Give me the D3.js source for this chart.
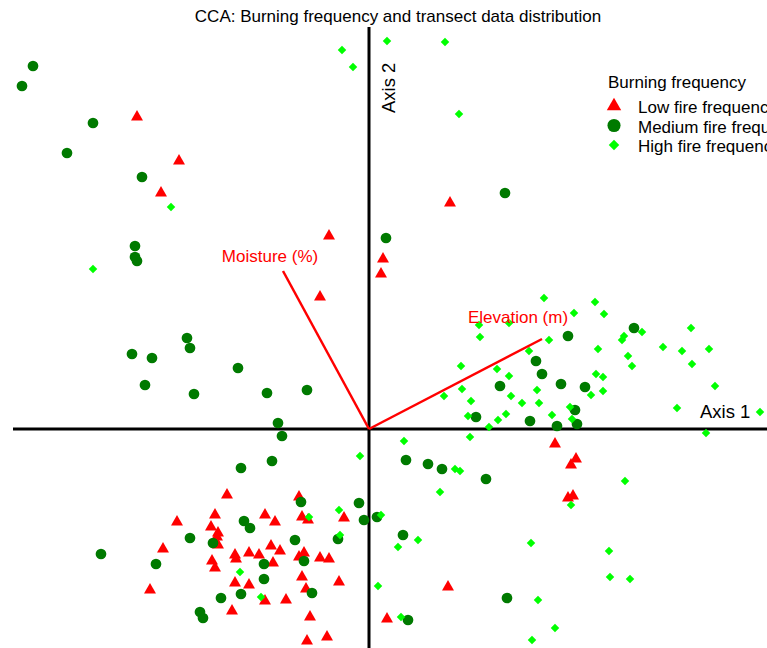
<!DOCTYPE html>
<html>
<head>
<meta charset="utf-8">
<script src="https://cdn.jsdelivr.net/npm/d3@7"></script>
<style>
  body { margin: 0; background: #fff; }
  svg { display: block; font-family: "Liberation Sans", Arial, Helvetica, sans-serif; }
</style>
</head>
<body>
<div id="chart"></div>
<script>
// CCA site scores [axis1, axis2] per burning frequency group
var lowFire = [
  [-2.32, 3.12], [-1.90, 2.68], [-2.08, 2.36], [0.81, 2.26], [-0.40, 1.93],
  [0.14, 1.70], [0.12, 1.55], [-0.49, 1.32], [1.86, -0.15], [2.07, -0.30],
  [2.02, -0.36], [1.99, -0.69], [2.04, -0.67], [0.79, -1.58], [0.18, -1.90],
  [-1.42, -0.66], [-0.70, -0.68], [-0.25, -0.89], [-1.92, -0.93], [-1.54, -0.86],
  [-1.04, -0.86], [-0.94, -0.93], [-0.67, -0.88], [-0.61, -0.91], [-1.58, -0.98],
  [-1.51, -1.04], [-1.52, -1.08], [-1.51, -1.16], [-2.06, -1.20], [-1.34, -1.26],
  [-1.33, -1.30], [-1.20, -1.24], [-1.10, -1.26], [-0.98, -1.17], [-0.89, -1.22],
  [-0.70, -1.28], [-0.65, -1.24], [-0.49, -1.29], [-0.40, -1.30], [-1.57, -1.32],
  [-1.54, -1.39], [-0.96, -1.34], [-0.67, -1.48], [-0.30, -1.53], [-1.34, -1.54],
  [-1.20, -1.56], [-0.63, -1.60], [-2.19, -1.61], [-1.04, -1.72], [-0.83, -1.71],
  [-1.37, -1.82], [-0.59, -1.88], [-0.62, -2.12], [-0.42, -2.08]
];

var mediumFire = [
  [-3.36, 3.63], [-3.47, 3.43], [-2.76, 3.06], [-3.02, 2.76], [-2.27, 2.52],
  [1.36, 2.36], [0.17, 1.91], [-2.34, 1.83], [-2.34, 1.72], [-2.32, 1.68],
  [-1.82, 0.91], [-1.79, 0.81], [-2.37, 0.75], [-2.17, 0.71], [-1.31, 0.61],
  [-2.24, 0.44], [-1.75, 0.35], [-1.02, 0.36], [-0.62, 0.39], [-0.91, 0.06],
  [-0.87, -0.07], [1.99, 0.93], [2.65, 1.01], [1.67, 0.68], [1.73, 0.55],
  [1.31, 0.43], [1.92, 0.45], [2.16, 0.42], [2.06, 0.19], [2.08, 0.05],
  [1.88, 0.03], [1.61, 0.08], [1.07, 0.12], [-0.97, -0.32], [-1.28, -0.39],
  [0.37, -0.31], [0.59, -0.35], [0.73, -0.40], [1.17, -0.50], [-0.68, -0.73],
  [-0.10, -0.74], [-0.05, -0.91], [0.08, -0.88], [-1.25, -0.92], [-1.19, -0.99],
  [-1.79, -1.09], [-0.74, -1.11], [-0.31, -1.10], [-1.56, -1.14], [-2.68, -1.25],
  [-2.13, -1.35], [-0.65, -1.32], [-1.05, -1.35], [-1.05, -1.50], [-1.48, -1.69],
  [-1.28, -1.65], [-0.57, -1.64], [-1.69, -1.83], [-1.66, -1.89], [0.34, -1.06],
  [1.38, -1.69], [0.39, -1.91]
];

var highFire = [
  [-0.27, 3.79], [-0.16, 3.62], [0.18, 3.88], [0.76, 3.87], [0.90, 3.15],
  [-1.98, 2.22], [-2.76, 1.60], [1.75, 1.31], [2.26, 1.27], [2.05, 1.16],
  [2.35, 1.15], [1.10, 1.04], [1.40, 1.06], [1.11, 0.92], [1.80, 0.89],
  [2.73, 0.97], [2.55, 0.93], [2.53, 0.89], [3.22, 1.01], [2.94, 0.82],
  [3.13, 0.78], [3.40, 0.80], [2.29, 0.80], [1.60, 0.78], [3.23, 0.65],
  [2.59, 0.73], [2.63, 0.63], [0.92, 0.63], [1.28, 0.60], [1.40, 0.53],
  [2.27, 0.55], [2.34, 0.52], [3.46, 0.43], [0.93, 0.40], [0.75, 0.33],
  [1.68, 0.39], [2.22, 0.34], [2.34, 0.38], [1.42, 0.33], [1.02, 0.28],
  [1.53, 0.26], [1.70, 0.26], [2.01, 0.22], [3.08, 0.21], [0.99, 0.13],
  [1.37, 0.15], [1.29, 0.09], [1.83, 0.14], [2.03, 0.10], [1.20, 0.02],
  [3.91, 0.17], [3.37, -0.04], [1.01, -0.08], [0.35, -0.12], [-0.09, -0.27],
  [0.86, -0.40], [0.91, -0.42], [2.56, -0.52], [0.71, -0.63], [2.02, -0.76],
  [-0.30, -0.81], [-0.60, -0.88], [0.12, -0.86], [-0.29, -1.06], [0.49, -1.11],
  [0.29, -1.18], [1.62, -1.14], [2.40, -1.22], [-1.29, -1.43], [2.41, -1.48],
  [2.61, -1.50], [0.09, -1.57], [-1.08, -1.68], [1.69, -1.71], [0.32, -1.88],
  [1.86, -1.99], [1.63, -2.11]
];

// environmental vectors
var envNames = ["Moisture (%)", "Elevation (m)"];
var envVectors = [[-0.86, 1.58], [1.73, 0.90]];

var groupNames = ["Low fire frequency", "Medium fire frequency", "High fire frequency"];

var svgWidth = 767;
var svgHeight = 648;

var svg = d3.select("#chart")
    .append("svg")
    .attr("width", svgWidth)
    .attr("height", svgHeight);

// 100 px per CCA unit, origin at (369, 429)
var xScale = d3.scaleLinear().domain([-3.69, 3.98]).range([0, svgWidth]);
var yScale = d3.scaleLinear().domain([4.29, -2.19]).range([0, svgHeight]);

// Title
svg.append("text")
    .attr("x", 398)
    .attr("y", 22)
    .attr("text-anchor", "middle")
    .attr("font-size", "17px")
    .text("CCA: Burning frequency and transect data distribution");

// Axes through the origin
svg.append("line")
    .attr("x1", xScale(-3.56)).attr("x2", svgWidth)
    .attr("y1", yScale(0)).attr("y2", yScale(0))
    .attr("stroke", "black").attr("stroke-width", 3);

svg.append("line")
    .attr("x1", xScale(0)).attr("x2", xScale(0))
    .attr("y1", yScale(4.02)).attr("y2", svgHeight)
    .attr("stroke", "black").attr("stroke-width", 3);

svg.append("text")
    .attr("transform", `translate(${xScale(0) + 26}, ${yScale(3.16)}) rotate(-90)`)
    .attr("font-size", "18.5px")
    .text("Axis 2");

svg.append("text")
    .attr("x", xScale(3.31))
    .attr("y", yScale(0.11))
    .attr("font-size", "18.5px")
    .text("Axis 1");

// Points
var colors = ["#ff0000", "#007a00", "#00ff00"];
var shapes = [d3.symbolTriangle, d3.symbolCircle, d3.symbolDiamond2];
var sizes = [62, 90, 46];
var groups = [lowFire, mediumFire, highFire];

groups.forEach(function(data, i) {
    svg.append("g").selectAll("path")
        .data(data)
        .enter()
        .append("path")
        .attr("transform", d => `translate(${xScale(d[0])}, ${yScale(d[1])})`)
        .attr("d", d3.symbol().type(shapes[i]).size(sizes[i]))
        .attr("fill", colors[i]);
});

// Biplot vectors
var labelOffsets = [[-13, -15], [-24, -22]];
envVectors.forEach(function(v, i) {
    svg.append("line")
        .attr("x1", xScale(0)).attr("y1", yScale(0))
        .attr("x2", xScale(v[0])).attr("y2", yScale(v[1]))
        .attr("stroke", "#ff0000")
        .attr("stroke-width", 2.5);
    svg.append("text")
        .attr("x", xScale(v[0]) + labelOffsets[i][0])
        .attr("y", yScale(v[1]) + labelOffsets[i][1])
        .attr("text-anchor", "middle")
        .attr("dominant-baseline", "central")
        .attr("font-size", "17px")
        .attr("fill", "#ff0000")
        .text(envNames[i]);
});

// Legend (clipped by the right edge, as in the original)
var legend = svg.append("g").attr("transform", "translate(608, 0)");
legend.append("text")
    .attr("x", 0).attr("y", 88)
    .attr("font-size", "17px")
    .text("Burning frequency");

var legendSizes = [90, 135, 70];
groupNames.forEach(function(name, i) {
    var y = 106 + i * 19.5;
    legend.append("path")
        .attr("transform", `translate(6, ${y})`)
        .attr("d", d3.symbol().type(shapes[i]).size(legendSizes[i]))
        .attr("fill", colors[i]);
    legend.append("text")
        .attr("x", 30).attr("y", y + 7)
        .attr("font-size", "17px")
        .text(name);
});
</script>
</body>
</html>
